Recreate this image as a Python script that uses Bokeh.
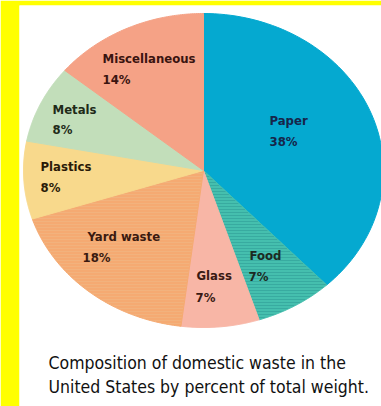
import numpy as np
from bokeh.plotting import figure
from bokeh.models import Range1d, ColumnDataSource
from bokeh.core.properties import value
from bokeh.embed import file_html
from bokeh.resources import INLINE

# ---- data ----
categories = ["Paper", "Food", "Glass", "Yard waste", "Plastics", "Metals", "Miscellaneous"]
percents = [38, 7, 7, 18, 8, 8, 14]
pct_labels = ["38%", "7%", "7%", "18%", "8%", "8%", "14%"]
caption_lines = ["Composition of domestic waste in the",
                 "United States by percent of total weight."]

# ---- styles / layout ----
colors = ["#05A9D0", "#45BFAE", "#F8B6A6", "#F5AA72", "#F8D98C", "#C2DEBA", "#F5A286"]
hatch = ["", "horizontal_line", "", "horizontal_line", "", "", ""]
hatch_colors = ["#05A9D0", "#2E9F96", "#F8B6A6", "#F0B884", "#F8D98C", "#C2DEBA", "#F5A286"]
text_colors = ["#16264a", "#1c2a22", "#3a1a14", "#3a1a10", "#2a1a08", "#1e2a18", "#3a1410"]
label_pos = [(269, 112), (249, 247), (196, 267), (87, 228), (40, 158), (52, 101), (102, 50)]
pct_pos = [(269, 133), (248, 268), (195, 289), (82, 249), (40, 179), (52, 121), (102, 71)]

FONT = "'DejaVu Sans Condensed', 'Liberation Sans', sans-serif"

cx, cy, ra, rb = 203.0, 170.0, 180.0, 157.0

W, H = 381, 406
p = figure(width=W, height=H, output_backend="svg", toolbar_location=None,
           x_range=Range1d(19, W), y_range=Range1d(H, 5))
p.min_border_left = 19
p.min_border_top = 5
p.min_border_right = 0
p.min_border_bottom = 0
p.border_fill_color = "#FFFF00"
p.background_fill_color = "white"
p.outline_line_color = None
p.axis.visible = False
p.grid.visible = False

total = float(sum(percents))
xs, ys = [], []
start = np.pi / 2
for v in percents:
    sweep = 2 * np.pi * v / total
    t = np.linspace(start, start - sweep, 80)
    xs.append([cx] + list(cx + ra * np.cos(t)) + [cx])
    ys.append([cy] + list(cy - rb * np.sin(t)) + [cy])
    start -= sweep

src = ColumnDataSource(dict(xs=xs, ys=ys, color=colors, hatch=hatch, hcol=hatch_colors))
p.patches("xs", "ys", source=src, fill_color="color", line_color="color", line_width=1,
          hatch_pattern="hatch", hatch_color="hcol", hatch_scale=3, hatch_weight=1,
          hatch_alpha=0.6)

lsrc = ColumnDataSource(dict(
    x=[q[0] for q in label_pos], y=[q[1] for q in label_pos], t=categories, c=text_colors,
    x2=[q[0] for q in pct_pos], y2=[q[1] for q in pct_pos], t2=pct_labels))
p.text("x", "y", text="t", source=lsrc, text_color="c", text_font=value(FONT),
       text_font_style="bold", text_font_size="13px", text_baseline="top", text_align="left")
p.text("x2", "y2", text="t2", source=lsrc, text_color="c", text_font=value(FONT),
       text_font_style="bold", text_font_size="13px", text_baseline="top", text_align="left")

p.text(x=[48, 48], y=[352, 376], text=caption_lines, text_color="#111111",
       text_font=value(FONT), text_font_size="17.5px",
       text_baseline="top", text_align="left")

open("out.html", "w").write(file_html(p, INLINE))
